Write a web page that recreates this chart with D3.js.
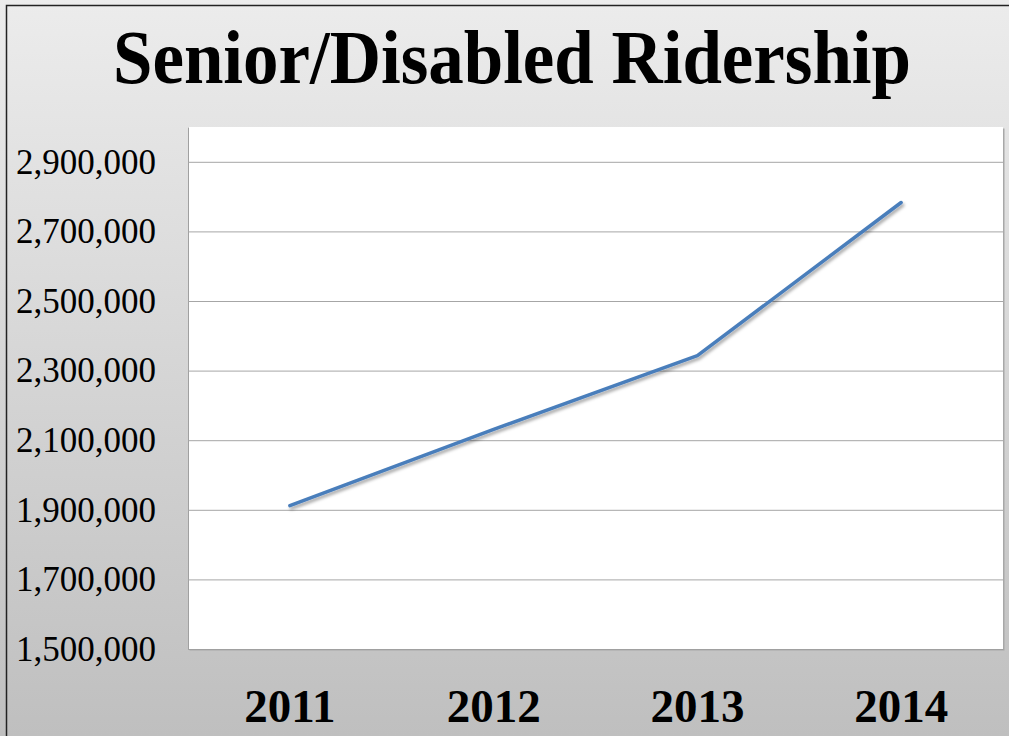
<!DOCTYPE html>
<html>
<head>
<meta charset="utf-8">
<script src="https://cdn.jsdelivr.net/npm/d3@7"></script>
<style>
  html, body { margin: 0; padding: 0; background: #fff; }
  svg { display: block; }
</style>
</head>
<body>
<svg id="canvas"></svg>
<script>
let years = ['2011', '2012', '2013', '2014']
let riders = [1912000, 2131000, 2343000, 2783000]
let yTicks = [1500000, 1700000, 1900000, 2100000, 2300000, 2500000, 2700000, 2900000]
let title = 'Senior/Disabled Ridership'

let width = 1009
let height = 736
let plot = { left: 188, right: 1003, top: 127, bottom: 649 }

let canvas = d3.select('#canvas')
    .attr('width', width)
    .attr('height', height)

let defs = canvas.append('defs')

let grad = defs.append('linearGradient')
    .attr('id', 'bg')
    .attr('x1', 0).attr('y1', 0)
    .attr('x2', 0).attr('y2', 1)
grad.append('stop').attr('offset', '0%').attr('stop-color', '#ececec')
grad.append('stop').attr('offset', '100%').attr('stop-color', '#bfbfbf')

let shadow = defs.append('filter')
    .attr('id', 'shadow')
    .attr('x', '-10%').attr('y', '-10%')
    .attr('width', '120%').attr('height', '120%')
shadow.append('feDropShadow')
    .attr('dx', 1.5).attr('dy', 2.5)
    .attr('stdDeviation', 1.5)
    .attr('flood-color', '#000')
    .attr('flood-opacity', 0.35)

// slide background and frame
canvas.append('rect')
    .attr('x', 0).attr('y', 0)
    .attr('width', width).attr('height', height)
    .attr('fill', 'url(#bg)')

canvas.append('path')
    .attr('d', 'M6.5,' + height + 'V5.5H' + width)
    .attr('fill', 'none')
    .attr('stroke', '#222')
    .attr('stroke-width', 1.5)

// title is condensed in the original, so squeeze it into its measured width
canvas.append('text')
    .attr('x', 512)
    .attr('y', 83)
    .attr('text-anchor', 'middle')
    .attr('font-family', '"Liberation Serif", "Times New Roman", serif')
    .attr('font-weight', 'bold')
    .attr('font-size', 76)
    .attr('textLength', 798)
    .attr('lengthAdjust', 'spacingAndGlyphs')
    .attr('fill', '#000')
    .text(title)

let xScale = d3.scaleBand()
    .domain(years)
    .range([plot.left, plot.right])

let yScale = d3.scaleLinear()
    .domain([1500000, 3000000])
    .range([plot.bottom, plot.top])

// plot area
canvas.append('rect')
    .attr('x', plot.left + 1.5).attr('y', plot.top + 1.5)
    .attr('width', plot.right - plot.left).attr('height', plot.bottom - plot.top)
    .attr('fill', '#a8a8a8')
canvas.append('rect')
    .attr('x', plot.left).attr('y', plot.top)
    .attr('width', plot.right - plot.left).attr('height', plot.bottom - plot.top)
    .attr('fill', '#fff')

let yAxis = d3.axisLeft(yScale)
    .tickValues(yTicks)
    .tickSize(0)
    .tickPadding(32)
    .tickFormat(d3.format(','))

let yG = canvas.append('g')
    .attr('transform', 'translate(' + plot.left + ',0)')
    .call(yAxis)
yG.select('.domain').attr('stroke', '#a0a0a0')
yG.selectAll('text')
    .attr('font-family', '"Liberation Serif", "Times New Roman", serif')
    .attr('font-size', 35)
    .attr('fill', '#000')
    .attr('dy', '0.32em')

let grid = d3.axisLeft(yScale)
    .tickValues(yTicks)
    .tickSize(-(plot.right - plot.left))
    .tickFormat('')

let gridG = canvas.append('g')
    .attr('transform', 'translate(' + plot.left + ',0)')
    .call(grid)
gridG.select('.domain').remove()
gridG.selectAll('line').attr('stroke', '#a6a6a6').attr('stroke-width', 1)

let xAxis = d3.axisBottom(xScale)
    .tickSize(0)
    .tickPadding(40)

let xG = canvas.append('g')
    .attr('transform', 'translate(0,' + plot.bottom + ')')
    .call(xAxis)
xG.select('.domain').attr('stroke', '#a0a0a0')
xG.selectAll('text')
    .attr('font-family', '"Liberation Serif", "Times New Roman", serif')
    .attr('font-weight', 'bold')
    .attr('font-size', 47)
    .attr('fill', '#000')
    .attr('dy', '0.71em')

let line = d3.line()
    .x((d, i) => xScale(years[i]) + xScale.bandwidth() / 2)
    .y(d => yScale(d))

canvas.append('path')
    .datum(riders)
    .attr('d', line)
    .attr('fill', 'none')
    .attr('stroke', '#4a7ebb')
    .attr('stroke-width', 3.5)
    .attr('stroke-linecap', 'round')
    .attr('stroke-linejoin', 'round')
    .attr('filter', 'url(#shadow)')
</script>
</body>
</html>
